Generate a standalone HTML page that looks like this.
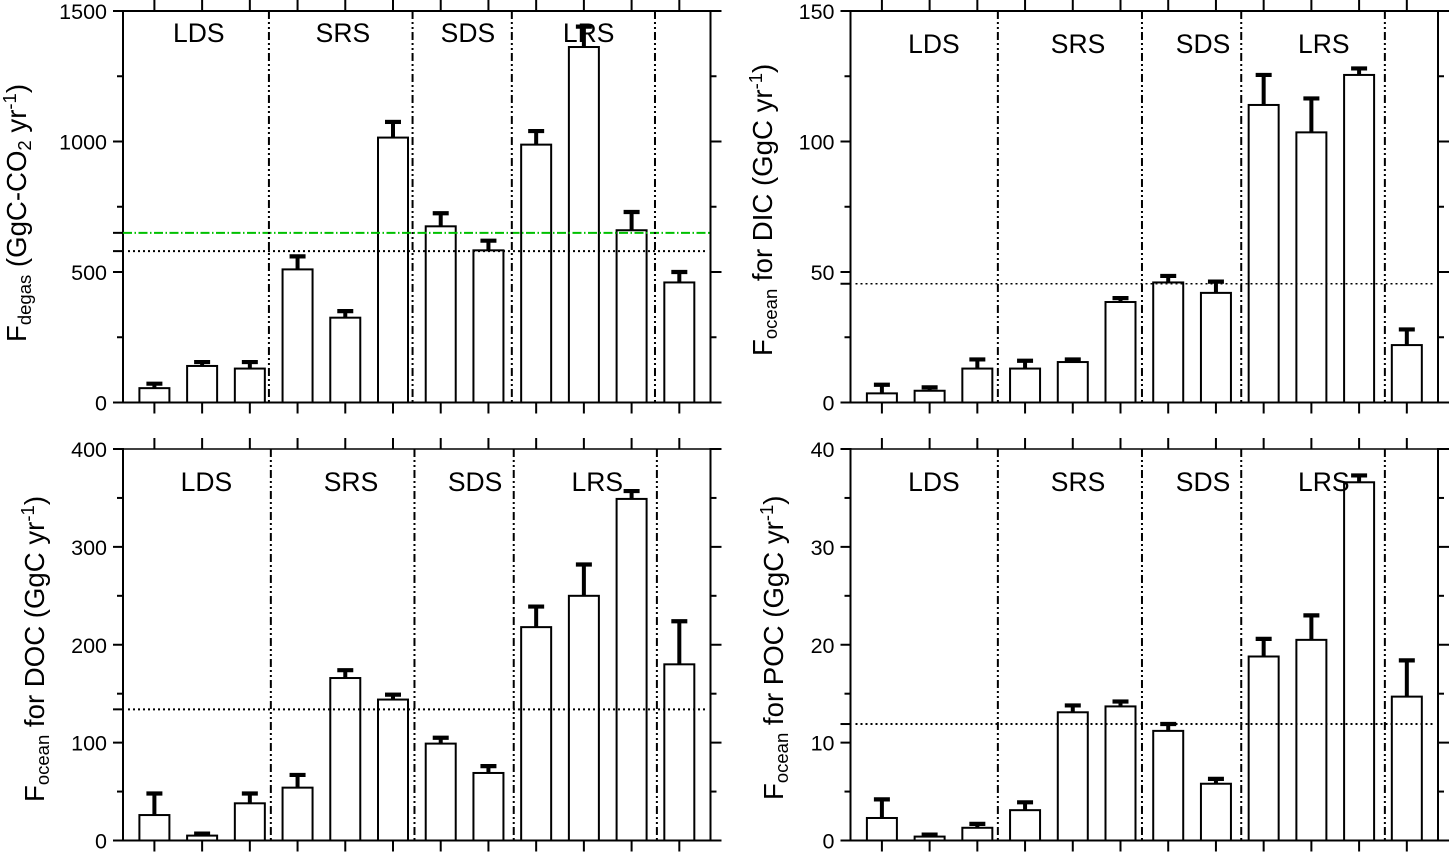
<!DOCTYPE html>
<html lang="en">
<head>
<meta charset="utf-8">
<title>Carbon flux bar charts</title>
<style>
html,body{margin:0;padding:0;background:#fff;width:1449px;height:852px;overflow:hidden}
svg{display:block;font-family:"Liberation Sans",sans-serif;fill:#000}
.yt{font-size:27.6px}
.sm{font-size:18.5px}
</style>
</head>
<body>
<svg id="chart" width="1449" height="852" viewBox="0 0 1449 852" xmlns="http://www.w3.org/2000/svg">
  <text class="yt" transform="translate(26 342) rotate(-90)">F<tspan class="sm" dy="5">degas</tspan><tspan dy="-5"> (GgC-CO</tspan><tspan class="sm" dy="5">2</tspan><tspan dy="-5"> yr</tspan><tspan class="sm" dy="-10">-1</tspan><tspan dy="10">)</tspan></text>
  <text class="yt" transform="translate(772 356) rotate(-90)">F<tspan class="sm" dy="5">ocean</tspan><tspan dy="-5"> for DIC (GgC yr</tspan><tspan class="sm" dy="-10">-1</tspan><tspan dy="10">)</tspan></text>
  <text class="yt" transform="translate(44 802) rotate(-90)">F<tspan class="sm" dy="5">ocean</tspan><tspan dy="-5"> for DOC (GgC yr</tspan><tspan class="sm" dy="-10">-1</tspan><tspan dy="10">)</tspan></text>
  <text class="yt" transform="translate(783 800) rotate(-90)">F<tspan class="sm" dy="5">ocean</tspan><tspan dy="-5"> for POC (GgC yr</tspan><tspan class="sm" dy="-10">-1</tspan><tspan dy="10">)</tspan></text>
</svg>
<script>
// Twelve bars per panel.
const categories = [1, 2, 3, 4, 5, 6, 7, 8, 9, 10, 11, 12];
const seasonNames = ['LDS', 'SRS', 'SDS', 'LRS'];

const degasValues = [55, 140, 130, 510, 325, 1015, 675, 583, 988, 1362, 660, 460];
const degasErrorTops = [72, 155, 155, 560, 350, 1075, 725, 620, 1040, 1440, 730, 500];
const degasTickLabels = [0, 500, 1000, 1500];
const degasMinorTicks = [250, 750, 1250];

const dicValues = [3.5, 4.5, 13, 13, 15.5, 38.5, 46, 42, 114, 103.5, 125.5, 22];
const dicErrorTops = [6.8, 5.8, 16.5, 16, 16.5, 40, 48.5, 46.3, 125.5, 116.5, 128, 28];
const dicTickLabels = [0, 50, 100, 150];
const dicMinorTicks = [25, 75, 125];

const docValues = [26, 5, 38, 54, 166, 144, 99, 69, 218, 250, 349, 180];
const docErrorTops = [48, 7, 48, 67, 174, 149, 105, 76, 239, 282, 357, 224];
const docTickLabels = [0, 100, 200, 300, 400];
const docMinorTicks = [50, 150, 250, 350];

const pocValues = [2.3, 0.4, 1.3, 3.1, 13.1, 13.7, 11.2, 5.8, 18.8, 20.5, 36.6, 14.7];
const pocErrorTops = [4.2, 0.6, 1.7, 3.9, 13.8, 14.2, 11.9, 6.3, 20.6, 23, 37.3, 18.4];
const pocTickLabels = [0, 10, 20, 30, 40];
const pocMinorTicks = [5, 15, 25, 35];

const NS = 'http://www.w3.org/2000/svg';
const svg = document.getElementById('chart');

function mk(tag, attrs) {
  const e = document.createElementNS(NS, tag);
  for (const k in attrs) e.setAttribute(k, attrs[k]);
  svg.appendChild(e);
  return e;
}

function drawPanel(p) {
  const ax = p.left, bx = p.right, ty = p.top, by = p.bottom;
  const y = v => by - (v / p.max) * (by - ty);
  const x = i => ax + 31.4 + i * 47.72;
  const n = p.name;
  const line = (x1, y1, x2, y2, w, extra) => mk('line', Object.assign({x1: x1, y1: y1, x2: x2, y2: y2, stroke: '#000', 'stroke-width': w}, extra || {}));

  // bars and error bars
  categories.forEach((c, i) => {
    const bar = mk('rect', {x: x(i) - 15, y: y(p.values[i]), width: 30, height: by - y(p.values[i]), fill: '#fff', stroke: '#000', 'stroke-width': 2});
    
    
    const stem = line(x(i), y(p.values[i]), x(i), y(p.errs[i]), 4);
    
    
    const cap = line(x(i) - 8, y(p.errs[i]), x(i) + 8, y(p.errs[i]), 4.2);
    
    
  });

  // axes
  const leftAxis = line(ax, ty - 1, ax, by + 1, 2);
  
  
  const rightAxis = line(bx, ty - 1, bx, by + 1, 2);
  
  
  const topAxis = line(ax - 10, ty, bx + 11, ty, p.topWidth);
  
  
  const bottomAxis = line(ax - 10, by, bx + 11, by, 2);
  
  

  // x ticks
  categories.forEach((c, i) => {
    const t1 = line(x(i), ty - 11, x(i), ty, 2);
    
    
    const t2 = line(x(i), by, x(i), by + 11, 2);
    
    
  });

  // y ticks and labels
  p.ticks.forEach(v => {
    const t1 = line(ax - 10, y(v), ax, y(v), 2);
    
    
    const t2 = line(bx, y(v), bx + 11, y(v), 2);
    
    
    const lab = mk('text', {x: ax - 16, y: y(v) + 8, 'text-anchor': 'end', 'font-size': 21.5});
    lab.textContent = v;
    
    
  });
  p.minor.forEach(v => {
    const t1 = line(ax - 6, y(v), ax, y(v), 2);
    
    
    const t2 = line(bx, y(v), bx + 6, y(v), 2);
    
    
  });

  // mean line
  const meanTick = line(ax - 10, y(p.mean), ax, y(p.mean), 2);
  
  
  const mean = line(ax + 5, y(p.mean), bx - 3, y(p.mean), p.meanWidth, {'stroke-dasharray': '2 3'});
  
  

  if (p.green !== undefined) {
    const gt = line(ax - 10, y(p.green), ax, y(p.green), 2);
    
    
    const g = line(ax, y(p.green), bx, y(p.green), 2, {'stroke-dasharray': '9 2.5 1.5 2.5', stroke: '#00c000'});
    
    
  }

  // season dividers, in category units
  p.dividers.forEach(d => {
    const dv = line(x(d), ty, x(d), by, 2, {'stroke-dasharray': '8 3 2 3 2 3'});
    
    
  });

  // season labels
  seasonNames.forEach((s, i) => {
    const t = mk('text', {x: x(p.labelAt[i]), y: p.labelY, 'text-anchor': 'middle', 'font-size': 26.5});
    t.textContent = s;
    
    
  });
}

drawPanel({name: 'degas', left: 123, right: 710.5, top: 11, bottom: 402.5, max: 1500, topWidth: 2, meanWidth: 2,
  values: degasValues, errs: degasErrorTops, ticks: degasTickLabels, minor: degasMinorTicks,
  mean: 580, green: 650, dividers: [2.40, 5.41, 7.49, 10.49], labelAt: [0.93, 3.95, 6.57, 9.10], labelY: 42});
drawPanel({name: 'dic', left: 850.5, right: 1438, top: 11, bottom: 402.5, max: 150, topWidth: 2, meanWidth: 1.6,
  values: dicValues, errs: dicErrorTops, ticks: dicTickLabels, minor: dicMinorTicks,
  mean: 45.5, dividers: [2.43, 5.45, 7.53, 10.54], labelAt: [1.09, 4.11, 6.73, 9.26], labelY: 53});
drawPanel({name: 'doc', left: 123, right: 710.5, top: 449, bottom: 840.5, max: 400, topWidth: 1.6, meanWidth: 2,
  values: docValues, errs: docErrorTops, ticks: docTickLabels, minor: docMinorTicks,
  mean: 134, dividers: [2.44, 5.45, 7.53, 10.53], labelAt: [1.09, 4.12, 6.72, 9.28], labelY: 491});
drawPanel({name: 'poc', left: 850.5, right: 1438, top: 449, bottom: 840.5, max: 40, topWidth: 1.6, meanWidth: 2,
  values: pocValues, errs: pocErrorTops, ticks: pocTickLabels, minor: pocMinorTicks,
  mean: 11.9, dividers: [2.43, 5.45, 7.53, 10.54], labelAt: [1.09, 4.11, 6.73, 9.26], labelY: 491});
</script>
</body>
</html>
